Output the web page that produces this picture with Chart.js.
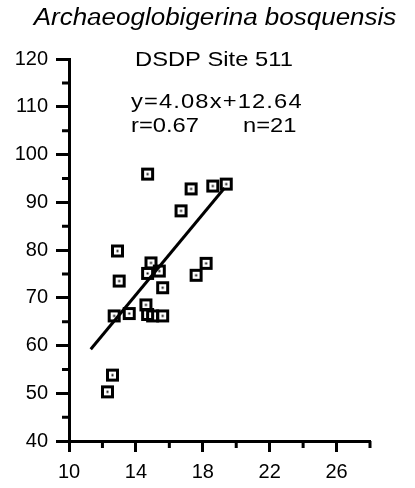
<!DOCTYPE html>
<html>
<head>
<meta charset="utf-8">
<script src="https://cdn.jsdelivr.net/npm/chart.js@4.4.1/dist/chart.umd.min.js"></script>
<style>
  html, body { margin: 0; padding: 0; background: #fff; }
  #wrap { width: 415px; height: 488px; }
</style>
</head>
<body>
<div id="wrap"><canvas id="chart" width="415" height="488"></canvas></div>
<script>
// values
const sizeValues = [14.7, 17.3, 18.6, 19.4, 16.7, 12.9, 14.9, 18.2, 14.7, 15.4, 17.6, 13.0, 15.6, 14.6, 12.7, 13.6, 14.7, 15.0, 15.6, 12.6, 12.3];
const depthValues = [95.9, 92.8, 93.4, 93.8, 88.2, 79.8, 77.3, 77.2, 75.1, 75.6, 74.7, 73.5, 72.1, 68.5, 66.2, 66.7, 66.5, 66.2, 66.2, 53.8, 50.3];
const fitX = [11.3, 19.3];
const fitY = [59.2, 93.0];
const xTicks = [10, 14, 18, 22, 26];
const xMinor = [12, 16, 20, 24, 28];
const yMinor = [45, 55, 65, 75, 85, 95, 105, 115];

const titleText = 'Archaeoglobigerina bosquensis';
const siteText = 'DSDP Site 511';
const eqText = 'y=4.08x+12.64';
const rText = 'r=0.67';
const nText = 'n=21';

const FONT = '"Liberation Sans", Arial, Helvetica, sans-serif';

// hollow square with a dot in the middle
function makeMarker() {
  const c = document.createElement('canvas');
  c.width = 15;
  c.height = 15;
  const g = c.getContext('2d');
  g.strokeStyle = '#000';
  g.lineWidth = 3;
  g.strokeRect(2.5, 2.5, 10, 10);
  g.fillStyle = '#000';
  g.fillRect(6.5, 6.5, 2, 2);
  return c;
}
const marker = makeMarker();

const points = sizeValues.map((v, i) => ({ x: v, y: depthValues[i] }));
const fitLine = fitX.map((v, i) => ({ x: v, y: fitY[i] }));

function drawStretched(ctx, text, x, y, sx, align, spacing) {
  ctx.save();
  ctx.translate(x, y);
  ctx.scale(sx, 1);
  ctx.textAlign = align;
  ctx.letterSpacing = spacing || '0px';
  ctx.fillText(text, 0, 0);
  ctx.restore();
}

const extras = {
  id: 'extras',
  afterDraw(chart) {
    const ctx = chart.ctx;
    const xs = chart.scales.x;
    const ys = chart.scales.y;
    ctx.save();
    ctx.strokeStyle = '#000';
    ctx.lineWidth = 3;
    ctx.beginPath();
    xMinor.forEach(v => {
      const px = xs.getPixelForValue(v);
      ctx.moveTo(px, xs.top);
      ctx.lineTo(px, xs.top + 7);
    });
    yMinor.forEach(v => {
      const py = ys.getPixelForValue(v);
      ctx.moveTo(ys.right, py);
      ctx.lineTo(ys.right - 7, py);
    });
    ctx.stroke();

    ctx.fillStyle = '#000';
    ctx.textBaseline = 'alphabetic';
    ctx.font = 'italic 23px ' + FONT;
    drawStretched(ctx, titleText, 215, 25, 1.13, 'center');
    ctx.font = '21px ' + FONT;
    drawStretched(ctx, siteText, 135, 66, 1.13, 'left');
    drawStretched(ctx, eqText, 131, 108, 1.13, 'left', '1px');
    drawStretched(ctx, rText, 131, 132, 1.13, 'left');
    drawStretched(ctx, nText, 243, 132, 1.13, 'left');
    ctx.restore();
  }
};

new Chart(document.getElementById('chart'), {
  type: 'scatter',
  data: {
    datasets: [
      {
        label: 'samples',
        data: points,
        pointStyle: marker,
        pointRadius: 7,
        pointHoverRadius: 7
      },
      {
        type: 'line',
        label: 'fit',
        data: fitLine,
        borderColor: '#000',
        borderWidth: 3,
        pointRadius: 0,
        fill: false
      }
    ]
  },
  options: {
    responsive: false,
    animation: false,
    layout: { padding: { left: 0, top: 59, right: 45, bottom: 0 } },
    plugins: {
      legend: { display: false },
      tooltip: { enabled: false }
    },
    scales: {
      x: {
        type: 'linear',
        min: 10,
        max: 28,
        afterBuildTicks: (scale) => { scale.ticks = xTicks.map(v => ({ value: v })); },
        afterFit: (scale) => { scale.height = 47; },
        grid: { drawOnChartArea: false, drawTicks: true, tickLength: 11, tickWidth: 3, tickColor: '#000' },
        border: { display: true, width: 3, color: '#000' },
        ticks: { color: '#000', padding: 8, maxRotation: 0, font: { family: FONT, size: 20 } }
      },
      y: {
        type: 'linear',
        min: 40,
        max: 120,
        ticks: { stepSize: 10, color: '#000', padding: 8, font: { family: FONT, size: 20 } },
        afterFit: (scale) => { scale.width = 69; },
        grid: { drawOnChartArea: false, drawTicks: true, tickLength: 13, tickWidth: 3, tickColor: '#000' },
        border: { display: true, width: 3, color: '#000' }
      }
    }
  },
  plugins: [extras]
});
</script>
</body>
</html>
